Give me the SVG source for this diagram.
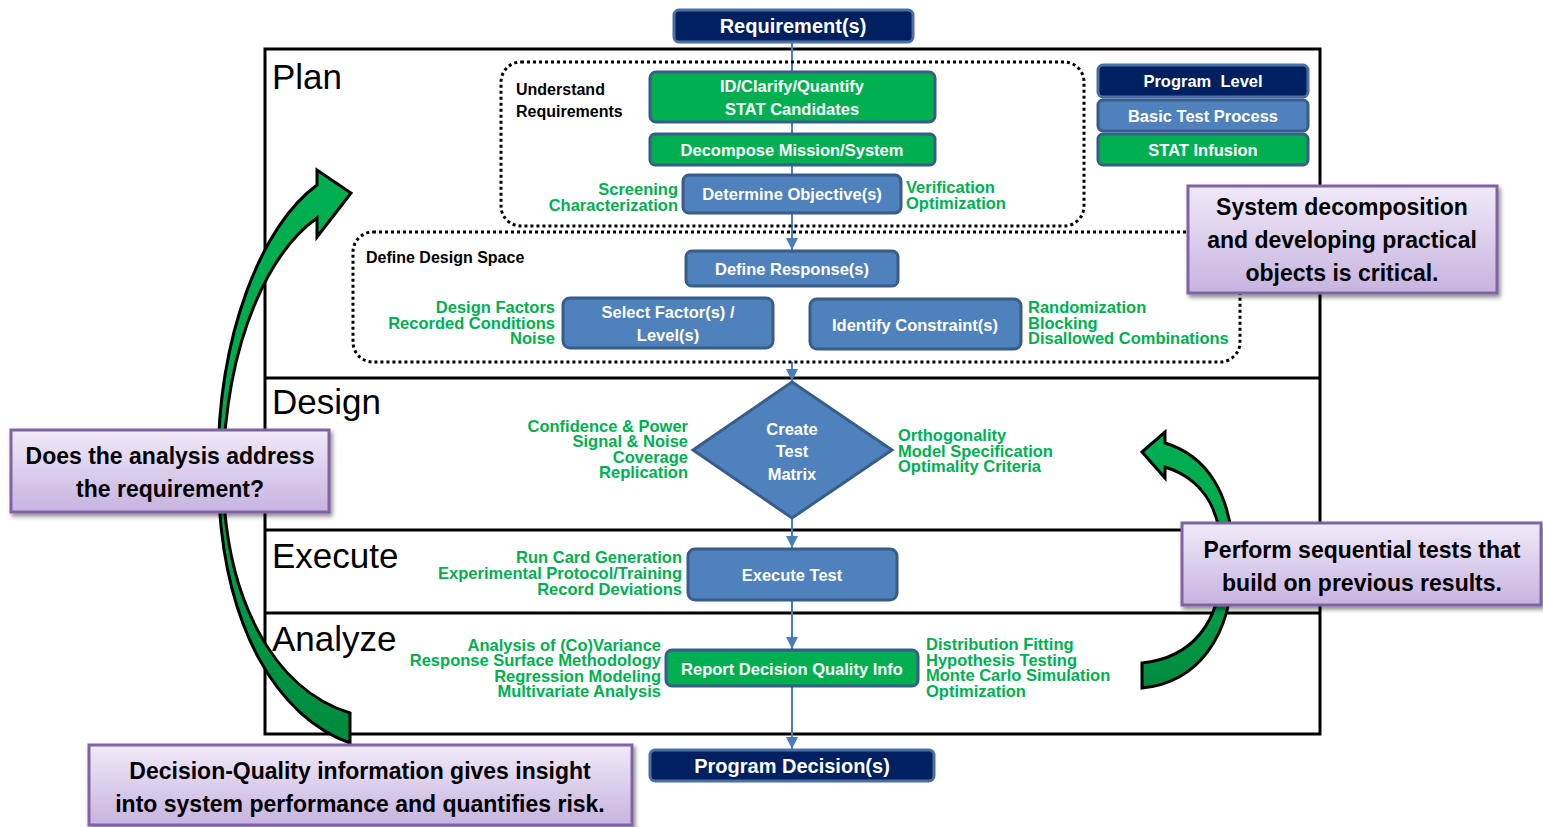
<svg xmlns="http://www.w3.org/2000/svg" width="1543" height="827" viewBox="0 0 1543 827">
<defs>
<style>
text{font-family:"Liberation Sans",Arial,sans-serif}
.bt{font-weight:bold;font-size:16.5px;fill:#fff;text-anchor:middle}
.bt20{font-weight:bold;font-size:20px;fill:#fff;text-anchor:middle}
.gl{font-weight:bold;font-size:16.5px;fill:#00B050}
.gr{font-weight:bold;font-size:16.5px;fill:#00B050;text-anchor:end}
.hd{font-weight:bold;font-size:16px;fill:#000}
.sec{font-size:35px;fill:#000}
.ct{font-weight:bold;font-size:23px;fill:#000;text-anchor:middle}
.navy{fill:#002060;stroke:#4A6FA5;stroke-width:3}
.blue{fill:#4F81BD;stroke:#385D8A;stroke-width:3}
.green{fill:#00B050;stroke:#385D8A;stroke-width:3}
.dot{fill:none;stroke:#000;stroke-width:3;stroke-dasharray:3 3}
.frame{fill:none;stroke:#000;stroke-width:3}
.conn{stroke:#4A7EBB;stroke-width:2;fill:none}
.call{fill:url(#cg);stroke:#8064A2;stroke-width:3;filter:url(#sh)}
.arr{stroke:#000;stroke-width:3;stroke-linejoin:miter}
</style>
<linearGradient id="cg" x1="0" y1="0" x2="0" y2="1">
<stop offset="0" stop-color="#F0EAF8"/>
<stop offset="1" stop-color="#C7B3E0"/>
</linearGradient>
<linearGradient id="lg" gradientUnits="userSpaceOnUse" x1="0" y1="170" x2="0" y2="745">
<stop offset="0" stop-color="#00B050"/>
<stop offset="0.5" stop-color="#00A84C"/>
<stop offset="1" stop-color="#008A3E"/>
</linearGradient>
<linearGradient id="rg" gradientUnits="userSpaceOnUse" x1="0" y1="430" x2="0" y2="690">
<stop offset="0" stop-color="#00B050"/>
<stop offset="0.5" stop-color="#00A84C"/>
<stop offset="1" stop-color="#008A3E"/>
</linearGradient>
<filter id="sh" x="-10%" y="-10%" width="120%" height="130%">
<feDropShadow dx="2" dy="3" stdDeviation="2" flood-color="#000" flood-opacity="0.45"/>
</filter>
<marker id="ah" markerUnits="userSpaceOnUse" markerWidth="14" markerHeight="12" refX="12" refY="6" orient="auto">
<polygon points="0,0 12,6 0,12" fill="#4A7EBB"/>
</marker>
</defs>

<g id="frame">
<rect class="frame" x="265" y="49" width="1055" height="685"/>
<line class="frame" x1="265" y1="378" x2="1320" y2="378"/>
<line class="frame" x1="265" y1="530" x2="1320" y2="530"/>
<line class="frame" x1="265" y1="613" x2="1320" y2="613"/>
<text class="sec" x="272" y="89">Plan</text>
<text class="sec" x="272" y="414">Design</text>
<text class="sec" x="272" y="568">Execute</text>
<text class="sec" x="272" y="651">Analyze</text>
</g>

<g id="connectors">
<line class="conn" x1="792" y1="42" x2="792" y2="72"/>
<line class="conn" x1="792" y1="122" x2="792" y2="134"/>
<line class="conn" x1="792" y1="165" x2="792" y2="175"/>
<line class="conn" x1="792" y1="213" x2="792" y2="250" marker-end="url(#ah)"/>
<line class="conn" x1="792" y1="362" x2="792" y2="381" marker-end="url(#ah)"/>
<line class="conn" x1="792" y1="518" x2="792" y2="548" marker-end="url(#ah)"/>
<line class="conn" x1="792" y1="600" x2="792" y2="649" marker-end="url(#ah)"/>
<line class="conn" x1="792" y1="686" x2="792" y2="749" marker-end="url(#ah)"/>
</g>

<g id="understand-requirements">
<rect class="dot" x="501" y="62" width="583" height="164" rx="20"/>
<text class="hd" x="516" y="95">Understand</text>
<text class="hd" x="516" y="117">Requirements</text>
</g>

<g id="define-design-space">
<rect class="dot" x="353" y="232" width="887" height="130" rx="20"/>
<text class="hd" x="366" y="263">Define Design Space</text>
</g>

<g id="requirements">
<rect class="navy" x="674" y="10" width="239" height="32" rx="5"/>
<text class="bt20" x="793" y="33">Requirement(s)</text>
</g>

<g id="id-clarify">
<rect class="green" x="650" y="72" width="285" height="50" rx="6"/>
<text class="bt" x="792" y="92">ID/Clarify/Quantify</text>
<text class="bt" x="792" y="115">STAT Candidates</text>
</g>

<g id="decompose">
<rect class="green" x="650" y="134" width="285" height="31" rx="5"/>
<text class="bt" x="792" y="156">Decompose Mission/System</text>
</g>

<g id="determine-objectives">
<rect class="blue" x="683" y="175" width="218" height="38" rx="6"/>
<text class="bt" x="792" y="200">Determine Objective(s)</text>
<text class="gr" x="678" y="195">Screening</text>
<text class="gr" x="678" y="211">Characterization</text>
<text class="gl" x="906" y="193">Verification</text>
<text class="gl" x="906" y="209">Optimization</text>
</g>

<g id="define-responses">
<rect class="blue" x="686" y="251" width="212" height="35" rx="6"/>
<text class="bt" x="792" y="275">Define Response(s)</text>
</g>

<g id="select-factors">
<rect class="blue" x="563" y="298" width="210" height="50" rx="7"/>
<text class="bt" x="668" y="318">Select Factor(s) /</text>
<text class="bt" x="668" y="341">Level(s)</text>
<text class="gr" x="555" y="313">Design Factors</text>
<text class="gr" x="555" y="329">Recorded Conditions</text>
<text class="gr" x="555" y="344">Noise</text>
</g>

<g id="identify-constraints">
<rect class="blue" x="810" y="299" width="211" height="50" rx="7"/>
<text class="bt" x="915" y="331">Identify Constraint(s)</text>
<text class="gl" x="1028" y="313">Randomization</text>
<text class="gl" x="1028" y="329">Blocking</text>
<text class="gl" x="1028" y="344">Disallowed Combinations</text>
</g>

<g id="legend">
<rect class="navy" x="1098" y="65" width="210" height="32" rx="5"/>
<text class="bt" x="1203" y="87" xml:space="preserve">Program  Level</text>
<rect class="blue" x="1098" y="100" width="210" height="31" rx="5"/>
<text class="bt" x="1203" y="122">Basic Test Process</text>
<rect class="green" x="1098" y="134" width="210" height="31" rx="5"/>
<text class="bt" x="1203" y="156">STAT Infusion</text>
</g>

<g id="create-test-matrix">
<polygon class="blue" points="792,382 892,450 792,518 693,450"/>
<text class="bt" x="792" y="435">Create</text>
<text class="bt" x="792" y="457">Test</text>
<text class="bt" x="792" y="480">Matrix</text>
<text class="gr" x="688" y="432">Confidence &amp; Power</text>
<text class="gr" x="688" y="447">Signal &amp; Noise</text>
<text class="gr" x="688" y="463">Coverage</text>
<text class="gr" x="688" y="478">Replication</text>
<text class="gl" x="898" y="441">Orthogonality</text>
<text class="gl" x="898" y="457">Model Specification</text>
<text class="gl" x="898" y="472">Optimality Criteria</text>
</g>

<g id="execute-test">
<rect class="blue" x="688" y="549" width="209" height="51" rx="7"/>
<text class="bt" x="792" y="581">Execute Test</text>
<text class="gr" x="682" y="563">Run Card Generation</text>
<text class="gr" x="682" y="579">Experimental Protocol/Training</text>
<text class="gr" x="682" y="595">Record Deviations</text>
</g>

<g id="report-decision-quality">
<rect class="green" x="666" y="650" width="252" height="36" rx="6"/>
<text class="bt" x="792" y="675">Report Decision Quality Info</text>
<text class="gr" x="661" y="651">Analysis of (Co)Variance</text>
<text class="gr" x="661" y="666">Response Surface Methodology</text>
<text class="gr" x="661" y="682">Regression Modeling</text>
<text class="gr" x="661" y="697">Multivariate Analysis</text>
<text class="gl" x="926" y="650">Distribution Fitting</text>
<text class="gl" x="926" y="666">Hypothesis Testing</text>
<text class="gl" x="926" y="681">Monte Carlo Simulation</text>
<text class="gl" x="926" y="697">Optimization</text>
</g>

<g id="program-decisions">
<rect class="navy" x="650" y="750" width="284" height="31" rx="5"/>
<text class="bt20" x="792" y="773">Program Decision(s)</text>
</g>

<g id="left-curved-arrow">
<path class="arr" fill="url(#lg)" d="M350,743 C280,718 219,630 218,470 C217,335 262,225 317,185 L317,170 L351,193 L317,237 L317,218 C272,250 226,335 223,470 C223,600 275,690 350,713 Z"/>
</g>

<g id="right-curved-arrow">
<path class="arr" fill="url(#rg)" d="M1142,452 L1165,432 L1165,443 C1205,455 1233,492 1233,560 C1233,640 1195,683 1142,688 L1142,663 C1190,658 1222,625 1222,560 C1222,505 1200,478 1165,467 L1165,478 Z"/>
</g>

<g id="callout-system">
<rect class="call" x="1188" y="186" width="309" height="107"/>
<text class="ct" x="1342" y="215">System decomposition</text>
<text class="ct" x="1342" y="248">and developing practical</text>
<text class="ct" x="1342" y="281">objects is critical.</text>
</g>

<g id="callout-analysis">
<rect class="call" x="11" y="430" width="318" height="82"/>
<text class="ct" x="170" y="464">Does the analysis address</text>
<text class="ct" x="170" y="497">the requirement?</text>
</g>

<g id="callout-sequential">
<rect class="call" x="1182" y="523" width="359" height="82"/>
<text class="ct" x="1362" y="558">Perform sequential tests that</text>
<text class="ct" x="1362" y="591">build on previous results.</text>
</g>

<g id="callout-decision-quality">
<rect class="call" x="89" y="745" width="543" height="80"/>
<text class="ct" x="360" y="779">Decision-Quality information gives insight</text>
<text class="ct" x="360" y="812">into system performance and quantifies risk.</text>
</g>
</svg>
